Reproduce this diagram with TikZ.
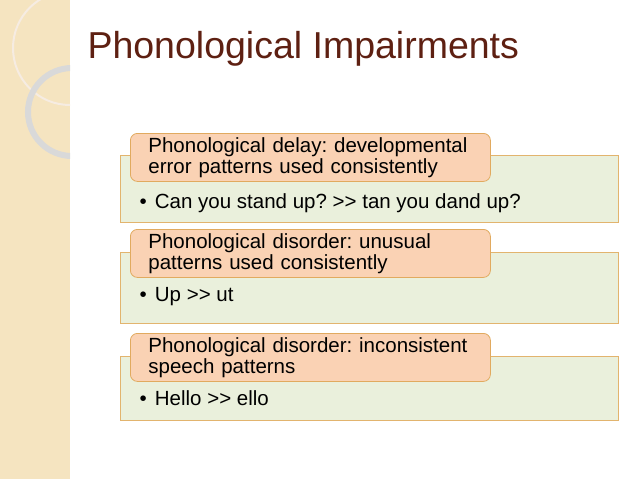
\documentclass[tikz,border=0pt]{standalone}
\usepackage{fontspec}
\setmainfont{Liberation Sans}
\frenchspacing
\definecolor{strip}{RGB}{245,228,192}
\definecolor{titlec}{RGB}{94,32,18}
\definecolor{greenf}{RGB}{234,240,220}
\definecolor{greend}{RGB}{226,180,110}
\definecolor{orangef}{RGB}{250,210,180}
\definecolor{oranged}{RGB}{225,170,95}
\tikzset{
 gbox/.style={draw=greend,fill=greenf,line width=0.8pt,minimum width=498pt,anchor=north west,inner sep=0pt},
 obox/.style={draw=oranged,fill=orangef,line width=0.8pt,rounded corners=7pt,minimum width=360pt,minimum height=48pt,anchor=north west,align=left,font=\fontsize{20.5}{21}\selectfont,inner xsep=18pt,inner ysep=3pt,text width=324pt},
 btext/.style={anchor=west,font=\fontsize{20.5}{22}\selectfont}
}
\begin{document}
\begin{tikzpicture}[x=1pt,y=-1pt]
\useasboundingbox (0,0) rectangle (638,479);
\fill[strip] (0,0) rectangle (70,479);
\begin{scope}
\clip (0,0) rectangle (70,479);
\draw[white!85!brown,line width=2pt] (70,48) circle (57);
\draw[gray!30,line width=6pt] (72,112) circle (44);
\end{scope}
\node[anchor=base west,text=titlec,font=\fontsize{37.5}{40}\selectfont] (title) at (84,58) {Phonological Impairments};
% box 1
\node[gbox,minimum height=67pt] (g1) at (120,155) {};
\node[obox] (o1) at (130,133) {Phonological delay: developmental\\error patterns used consistently};
\node[btext] (b1) at (136,203) {•\hspace{0.4em}Can you stand up? {>}{>} tan you dand up?};
% box 2
\node[gbox,minimum height=71pt] (g2) at (120,252) {};
\node[obox] (o2) at (130,229) {Phonological disorder: unusual\\patterns used consistently};
\node[btext] (b2) at (136,297) {•\hspace{0.4em}Up {>}{>} ut};
% box 3
\node[gbox,minimum height=64pt] (g3) at (120,356) {};
\node[obox] (o3) at (130,333) {Phonological disorder: inconsistent\\speech patterns};
\node[btext] (b3) at (136,398) {•\hspace{0.4em}Hello {>}{>} ello};
\end{tikzpicture}
\end{document}
